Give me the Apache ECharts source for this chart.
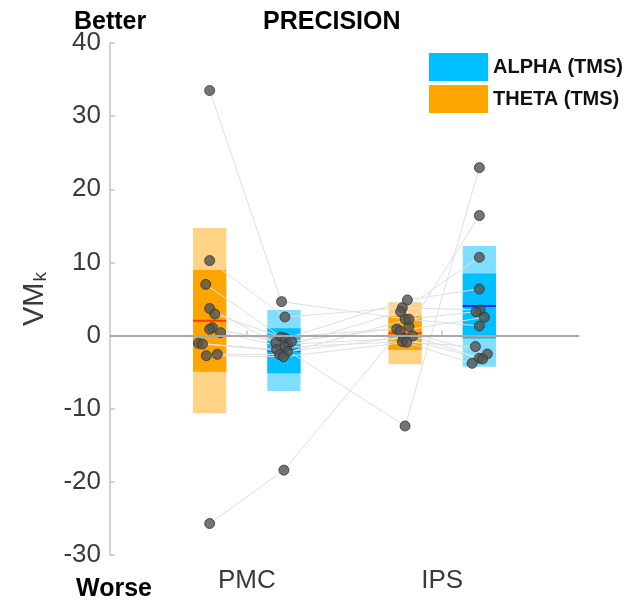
<!DOCTYPE html>
<html>
<head>
<meta charset="utf-8">
<script src="https://cdn.jsdelivr.net/npm/echarts@6/dist/echarts.min.js"></script>
<style>
  html, body { margin: 0; padding: 0; background: #ffffff; }
  #chart { width: 629px; height: 602px; }
</style>
</head>
<body>
<div id="chart"></div>
<script>
// Stimulation sites along the x axis
const regions = ['PMC', 'IPS'];
const regionPos = [1, 2];

// Per-subject VMk values; index i is the same subject in every array
const thetaPMC = [33.5, 10.25, 7.0, 3.7, 2.95, 1.08, 0.86, 0.4, -1.06, -1.15, -2.56, -2.75, -25.7];
const alphaPMC = [4.64, 2.54, -0.2, -1.0, -0.4, -1.2, -0.8, -1.6, -1.9, -2.2, -2.6, -2.9, -18.4];
const thetaIPS = [2.27, 3.8, 0.9, -12.36, 4.87, -0.37, 1.22, -0.83, 3.27, -0.05, 2.23, -0.92, 0.63];
const alphaIPS = [1.31, 3.5, -2.52, 22.96, 6.37, -3.1, 16.4, -1.51, 10.7, -3.2, 3.27, -3.8, 2.5];

// Horizontal scatter of the dots (x-axis units)
const jitterThetaPMC = [0, 0, -0.020, 0, 0.026, 0.014, 0, 0.056, -0.058, -0.037, 0.039, -0.017, 0];
const jitterAlphaPMC = [-0.012, 0.005, -0.014, -0.042, 0.009, 0.019, 0.039, 0.004, -0.037, 0.019, -0.022, -0.002, 0];
const jitterThetaIPS = [0, -0.014, -0.043, 0, 0.012, -0.009, 0.020, -0.014, -0.023, 0.039, 0.020, 0.008, -0.026];
const jitterAlphaIPS = [0, 0.004, 0.041, 0, 0, 0, 0, -0.020, 0, 0.017, -0.017, -0.037, 0.026];

// Group summaries per site [PMC, IPS]: mean, 95% CI band, SD band
const thetaMean = [2.04, 0.31];
const thetaCI = [[-4.93, 8.97], [-1.97, 2.65]];
const thetaSD = [[-10.6, 14.7], [-3.93, 4.55]];
const alphaMean = [-2.03, 4.05];
const alphaCI = [[-5.16, 1.0], [-0.4, 8.5]];
const alphaSD = [[-7.57, 3.5], [-4.25, 12.25]];

const yTicks = { min: -30, max: 40, step: 10 };

const THETA_OFF = -0.19, ALPHA_OFF = 0.19, HALF_W = 0.085;
const FONT = '"Liberation Sans", Arial, Helvetica, sans-serif';

function boxRenderer(offset, sd, ci, mean, light, dark, meanColor) {
  return function (params, api) {
    const i = params.dataIndex;
    const x = regionPos[i] + offset;
    const rect = (lo, hi) => {
      const a = api.coord([x - HALF_W, hi]);
      const b = api.coord([x + HALF_W, lo]);
      return { x: a[0], y: a[1], width: b[0] - a[0], height: b[1] - a[1] };
    };
    const m1 = api.coord([x - HALF_W, mean[i]]);
    const m2 = api.coord([x + HALF_W, mean[i]]);
    return {
      type: 'group',
      children: [
        { type: 'rect', shape: rect(sd[i][0], sd[i][1]), style: { fill: light } },
        { type: 'rect', shape: rect(ci[i][0], ci[i][1]), style: { fill: dark } },
        { type: 'line', shape: { x1: m1[0], y1: m1[1], x2: m2[0], y2: m2[1] },
          style: { stroke: meanColor, lineWidth: 2 } }
      ]
    };
  };
}

const xOf = (site, off, jit) => thetaPMC.map((_, i) => regionPos[site] + off + jit[i]);
const xTP = xOf(0, THETA_OFF, jitterThetaPMC);
const xAP = xOf(0, ALPHA_OFF, jitterAlphaPMC);
const xTI = xOf(1, THETA_OFF, jitterThetaIPS);
const xAI = xOf(1, ALPHA_OFF, jitterAlphaIPS);

// One faint polyline per subject across the four conditions
const subjectLines = thetaPMC.map((_, i) => ({
  type: 'line',
  data: [[xTP[i], thetaPMC[i]], [xAP[i], alphaPMC[i]], [xTI[i], thetaIPS[i]], [xAI[i], alphaIPS[i]]],
  showSymbol: false,
  silent: true,
  z: 3,
  lineStyle: { color: '#e0e0e0', width: 1 },
  animation: false
}));

const dots = [];
thetaPMC.forEach((v, i) => dots.push([xTP[i], v]));
alphaPMC.forEach((v, i) => dots.push([xAP[i], v]));
thetaIPS.forEach((v, i) => dots.push([xTI[i], v]));
alphaIPS.forEach((v, i) => dots.push([xAI[i], v]));

const chart = echarts.init(document.getElementById('chart'), null, { renderer: 'canvas' });

chart.setOption({
  animation: false,
  backgroundColor: '#ffffff',
  grid: { left: 110, right: 50, top: 43, bottom: 47, containLabel: false },
  xAxis: {
    type: 'value',
    min: 0.3,
    max: 2.7,
    splitLine: { show: false },
    axisLine: { show: true, lineStyle: { color: '#c4c4c4', width: 1.5 } },
    axisTick: { show: true, inside: true, length: 5, customValues: regionPos,
                lineStyle: { color: '#c4c4c4', width: 1.5 } },
    axisLabel: {
      customValues: regionPos,
      formatter: v => regions[regionPos.indexOf(Math.round(v))] || '',
      fontFamily: FONT, fontSize: 26, color: '#3a3a3a', margin: 13
    }
  },
  yAxis: {
    type: 'value',
    min: yTicks.min,
    max: yTicks.max,
    interval: yTicks.step,
    splitLine: { show: false },
    axisLine: { show: true, lineStyle: { color: '#c4c4c4', width: 1.5 } },
    axisTick: { show: true, inside: true, length: 5, lineStyle: { color: '#c4c4c4', width: 1.5 } },
    axisLabel: { fontFamily: FONT, fontSize: 26, color: '#3a3a3a', margin: 9 },
    name: 'VM{sub|k}',
    nameLocation: 'middle',
    nameRotate: 90,
    nameGap: 60,
    nameTextStyle: {
      fontFamily: FONT, fontSize: 29, color: '#3a3a3a',
      rich: { sub: { fontFamily: FONT, fontSize: 19, color: '#3a3a3a', verticalAlign: 'bottom', padding: [12, 0, 0, 1] } }
    }
  },
  legend: {
    orient: 'vertical',
    left: 429,
    top: 53,
    padding: 0,
    itemWidth: 59,
    itemHeight: 28,
    itemGap: 4,
    icon: 'rect',
    selectedMode: false,
    data: ['ALPHA (TMS)', 'THETA (TMS)'],
    textStyle: { fontFamily: FONT, fontSize: 20, fontWeight: 'bold', color: '#111111' }
  },
  graphic: [
    { type: 'text', left: 74, top: 10, style: { text: 'Better', font: 'bold 25px ' + FONT, fill: '#000' } },
    { type: 'text', left: 263, top: 10, style: { text: 'PRECISION', font: 'bold 25px ' + FONT, fill: '#000' } },
    { type: 'text', left: 76, top: 577, style: { text: 'Worse', font: 'bold 25px ' + FONT, fill: '#000' } }
  ],
  series: [
    {
      name: 'THETA (TMS)',
      type: 'custom',
      z: 1,
      itemStyle: { color: '#ffa500' },
      renderItem: boxRenderer(THETA_OFF, thetaSD, thetaCI, thetaMean, '#ffd384', '#ffa500', '#ff3c00'),
      data: regionPos.map((x, i) => [x + THETA_OFF, thetaMean[i]])
    },
    {
      name: 'ALPHA (TMS)',
      type: 'custom',
      z: 1,
      itemStyle: { color: '#00bfff' },
      renderItem: boxRenderer(ALPHA_OFF, alphaSD, alphaCI, alphaMean, '#80dfff', '#00bfff', '#0a28ff'),
      data: regionPos.map((x, i) => [x + ALPHA_OFF, alphaMean[i]])
    },
    {
      name: 'zero',
      type: 'line',
      data: [],
      z: 2,
      silent: true,
      markLine: {
        silent: true,
        symbol: 'none',
        label: { show: false },
        lineStyle: { color: '#a8a8a8', width: 2, type: 'solid' },
        data: [{ yAxis: 0 }]
      }
    },
    ...subjectLines,
    {
      name: 'subjects',
      type: 'scatter',
      z: 4,
      silent: true,
      symbolSize: 10,
      itemStyle: { color: '#525252', borderColor: '#333333', borderWidth: 1 },
      data: dots
    }
  ]
});
</script>
</body>
</html>
